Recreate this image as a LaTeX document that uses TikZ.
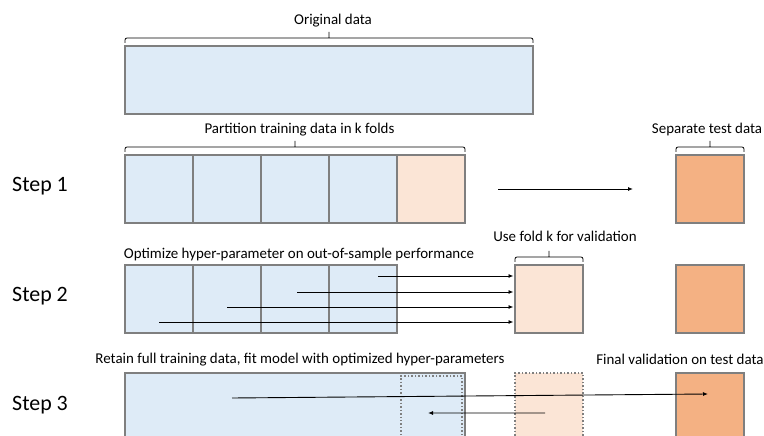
\documentclass[tikz,border=0pt]{standalone}
\usepackage{fontspec}
\setmainfont{Carlito}
\usetikzlibrary{positioning}
\usetikzlibrary{chains}
\usetikzlibrary{calc}
\usetikzlibrary{arrows.meta}
\definecolor{trainblue}{HTML}{DEEBF7}
\definecolor{valpeach}{HTML}{FBE5D6}
\definecolor{testorange}{HTML}{F4B183}
\definecolor{boxgray}{HTML}{7F7F7F}
\tikzset{brk/.style={line width=0.8bp,rounded corners=2bp,
    to path={([yshift=3bp]\tikztostart) -- ([yshift=8bp]\tikztostart)
      -- ([yshift=8bp]\tikztotarget) -- ([yshift=3bp]\tikztotarget)
      ($([yshift=8bp]\tikztostart)!0.5!([yshift=8bp]\tikztotarget)$) -- ++(0,6bp)}}}

\begin{document}
\begin{tikzpicture}[x=1bp,y=1bp,start chain=1 going right,
    start chain=2 going right]
  \tikzstyle{abox}=[draw=boxgray,line width=1.5bp,minimum width=68bp,minimum height=68bp,inner sep=0pt,outer sep=0pt]
  \tikzstyle{trainbox}=[abox,fill=trainblue]
  \tikzstyle{valbox}=[abox,fill=valpeach]
  \tikzstyle{testbox}=[abox,fill=testorange]
  \tikzstyle{dotbox}=[abox,dotted,line width=1.2bp]
  \tikzstyle{boxchain}=[node distance=0pt]
  \tikzstyle{lbl}=[inner sep=0pt,text height=0.75em,text depth=0.25em,font=\fontsize{15}{18}\selectfont]
  \tikzstyle{steplbl}=[inner sep=0pt,anchor=west,text height=0.65em,text depth=0pt,font=\fontsize{22}{26}\selectfont]
  \tikzstyle{arrowline}=[draw,line width=0.9bp,-{Latex[length=5bp,width=4bp]}]
  \def\labelsep{19.25bp}

  \clip (0,0) rectangle (764,-436);

  % original data
  \node [trainbox,minimum width=408bp] (orig) at (329,-80) {};
  \draw [brk] (orig.north west) to (orig.north east);
  \node [lbl,above=\labelsep of orig,xshift=4bp] (origlbl) {Original data};

  % step 1
  \begin{scope}[boxchain]
    \node [on chain=1, trainbox] (f1) at (159,-189) {};
    \node [on chain=1, trainbox] (f2) {};
    \node [on chain=1, trainbox] (f3) {};
    \node [on chain=1, trainbox] (f4) {};
    \node [on chain=1, valbox] (f5) {};
  \end{scope}
  \node [testbox] (test1) at (710,-189) {};
  \draw [brk] (f1.north west) to (f5.north east);
  \draw [brk] (test1.north west) to (test1.north east);
  \node [lbl,above=\labelsep of f3,xshift=4.5bp] (partlbl) {Partition training data in k folds};
  \node [lbl,above=\labelsep of test1,xshift=-3bp] (seplbl) {Separate test data};
  \node [steplbl] (step1) at (12,-188) {Step 1};

  \coordinate (s1a) at ([xshift=33bp]f5.east);
  \coordinate (s1b) at ([xshift=-43bp]test1.west);
  \path [arrowline] (s1a) -- (s1b);

  % step 2
  \begin{scope}[boxchain]
    \node [on chain=2, trainbox] (g1) at (159,-299) {};
    \node [on chain=2, trainbox] (g2) {};
    \node [on chain=2, trainbox] (g3) {};
    \node [on chain=2, trainbox] (g4) {};
  \end{scope}
  \node [valbox] (val2) at (549,-299) {};
  \node [testbox] (test2) at (710,-299) {};
  \draw [brk] (val2.north west) to (val2.north east);
  \node [lbl,above=21.25bp of val2,xshift=16bp] (uselbl) {Use fold k for validation};
  \node [lbl,above=4.25bp of g3,xshift=4bp] (optlbl) {Optimize hyper-parameter on out-of-sample performance};
  \node [steplbl] (step2) at (12,-298) {Step 2};

  \coordinate (a4) at ([xshift=15bp,yshift=23bp]g4.center);
  \coordinate (a3) at ([xshift=2bp,yshift=7bp]g3.center);
  \coordinate (a2) at ([yshift=-8bp]g2.center);
  \coordinate (a1) at ([yshift=-23bp]g1.center);
  \path [arrowline,shorten >=1.5bp] (a4) -- (a4 -| val2.west);
  \path [arrowline,shorten >=1.5bp] (a3) -- (a3 -| val2.west);
  \path [arrowline,shorten >=1.5bp] (a2) -- (a2 -| val2.west);
  \path [arrowline,shorten >=1.5bp] (a1) -- (a1 -| val2.west);

  % step 3
  \node [trainbox,minimum width=340bp] (full) at (295,-407) {};
  \node [dotbox,minimum width=61bp] (hold) at (431.5,-410) {};
  \node [valbox,dotted,line width=1.2bp] (val3) at (549,-407) {};
  \node [testbox] (test3) at (710,-407) {};
  \node [lbl,above=7.25bp of full,xshift=5bp] (retlbl) {Retain full training data, fit model with optimized hyper-parameters};
  \node [lbl,above=6.25bp of test3,xshift=-30bp] (finlbl) {Final validation on test data};
  \node [steplbl] (step3) at (12,-407) {Step 3};

  \coordinate (fitstart) at ([xshift=-63bp,yshift=9bp]full.center);
  \coordinate (fitend) at ([xshift=-2bp,yshift=13bp]test3.center);
  \path [arrowline] (fitstart) -- (fitend);
  \coordinate (backstart) at ([xshift=-4bp,yshift=-6bp]val3.center);
  \coordinate (backend) at ([xshift=-3.5bp,yshift=-3bp]hold.center);
  \path [arrowline] (backstart) -- (backend);
\end{tikzpicture}
\end{document}
